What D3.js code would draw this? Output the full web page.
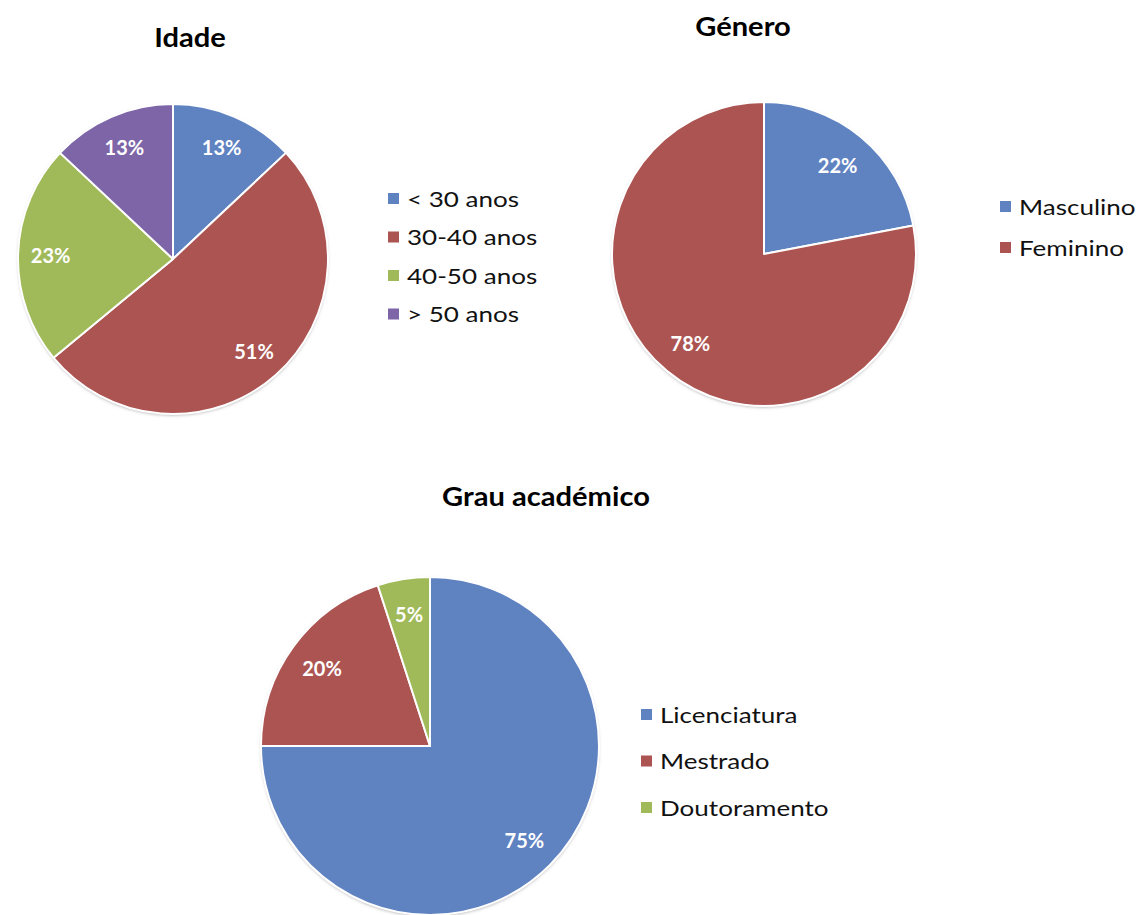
<!DOCTYPE html>
<html>
<head>
<meta charset="utf-8">
<script src="https://cdn.jsdelivr.net/npm/d3@7"></script>
<style>
  html, body { margin: 0; padding: 0; background: #fff; }
  svg { display: block; }
</style>
</head>
<body>
<svg id="chart" width="1142" height="915"></svg>
<script>
// ---- Data ----
const idadeCategories = ["< 30 anos", "30-40 anos", "40-50 anos", "> 50 anos"];
const idadeValues = [13, 51, 23, 13];

const generoCategories = ["Masculino", "Feminino"];
const generoValues = [22, 78];

const grauCategories = ["Licenciatura", "Mestrado", "Doutoramento"];
const grauValues = [75, 20, 5];

const titles = ["Idade", "Género", "Grau académico"];

// ---- Styles / layout ----
const palette4 = ["#5F82C1", "#AC5452", "#A0BA59", "#7D65A7"];
const palette2 = ["#5F82C1", "#AC5452"];
const palette3 = ["#5F82C1", "#AC5452", "#A0BA59"];

const FONT = "Lato, 'Open Sans', 'DejaVu Sans', sans-serif";
const LEG_SCALE = 1.24;
const TITLE_SCALE = 1.12;

const svg = d3.select("#chart");
svg.append("rect").attr("width", 1142).attr("height", 915).attr("fill", "#fff");

const defs = svg.append("defs");
const f = defs.append("filter").attr("id", "shadow")
  .attr("x", "-10%").attr("y", "-10%").attr("width", "120%").attr("height", "120%");
f.append("feDropShadow").attr("dx", 0).attr("dy", 1.5).attr("stdDeviation", 1.6)
  .attr("flood-color", "#7a7a7a").attr("flood-opacity", 0.55);

function drawPie(cfg) {
  const { categories, values, colors, cx, cy, r, title, titleX, titleY,
          legX, legY, legStep, labelFactor } = cfg;
  const color = d3.scaleOrdinal().domain(categories).range(colors);
  const pie = d3.pie().sort(null).value(d => d.v);
  const data = pie(categories.map((c, i) => ({ c, v: values[i] })));
  const arc = d3.arc().innerRadius(0).outerRadius(r);
  const labelArc = d3.arc().innerRadius(r * labelFactor).outerRadius(r * labelFactor);

  const g = svg.append("g").attr("transform", `translate(${cx},${cy})`);
  g.append("circle").attr("r", r).attr("fill", "#fff").attr("filter", "url(#shadow)");
  g.selectAll("path.slice").data(data).join("path")
    .attr("class", "slice")
    .attr("d", arc)
    .attr("fill", d => color(d.data.c))
    .attr("stroke", "#fff")
    .attr("stroke-width", 2)
    .attr("stroke-linejoin", "round");

  g.selectAll("text.lbl").data(data).join("text")
    .attr("class", "lbl")
    .attr("transform", d => `translate(${labelArc.centroid(d)})`)
    .attr("text-anchor", "middle")
    .attr("dominant-baseline", "central")
    .attr("font-family", FONT)
    .attr("font-weight", "bold")
    .attr("font-size", 20)
    .attr("fill", "#fff")
    .text(d => d.data.v + "%");

  svg.append("text")
    .attr("transform", `translate(${titleX},${titleY}) scale(${TITLE_SCALE},1)`)
    .attr("text-anchor", "middle")
    .attr("font-family", FONT)
    .attr("font-weight", "bold")
    .attr("font-size", 26)
    .attr("fill", "#000")
    .text(title);

  const leg = svg.append("g").attr("transform", `translate(${legX},${legY})`);
  const items = leg.selectAll("g").data(categories).join("g")
    .attr("transform", (d, i) => `translate(0,${i * legStep})`);
  items.append("rect").attr("x", 0).attr("y", -6).attr("width", 11).attr("height", 11)
    .attr("fill", d => color(d));
  items.append("text")
    .attr("transform", `translate(19,0) scale(${LEG_SCALE},1)`)
    .attr("dominant-baseline", "central")
    .attr("font-family", FONT)
    .attr("font-size", 21)
    .attr("fill", "#111")
    .text(d => d);
}

drawPie({
  categories: idadeCategories, values: idadeValues, colors: palette4,
  cx: 173, cy: 259, r: 155, title: titles[0], titleX: 190, titleY: 47,
  legX: 388, legY: 199, legStep: 38.5, labelFactor: 0.79
});

drawPie({
  categories: generoCategories, values: generoValues, colors: palette2,
  cx: 764, cy: 254, r: 152, title: titles[1], titleX: 743, titleY: 36,
  legX: 1000, legY: 207, legStep: 41, labelFactor: 0.76
});

drawPie({
  categories: grauCategories, values: grauValues, colors: palette3,
  cx: 430, cy: 746, r: 169, title: titles[2], titleX: 546, titleY: 506,
  legX: 641, legY: 715, legStep: 46.5, labelFactor: 0.79
});
</script>
</body>
</html>
